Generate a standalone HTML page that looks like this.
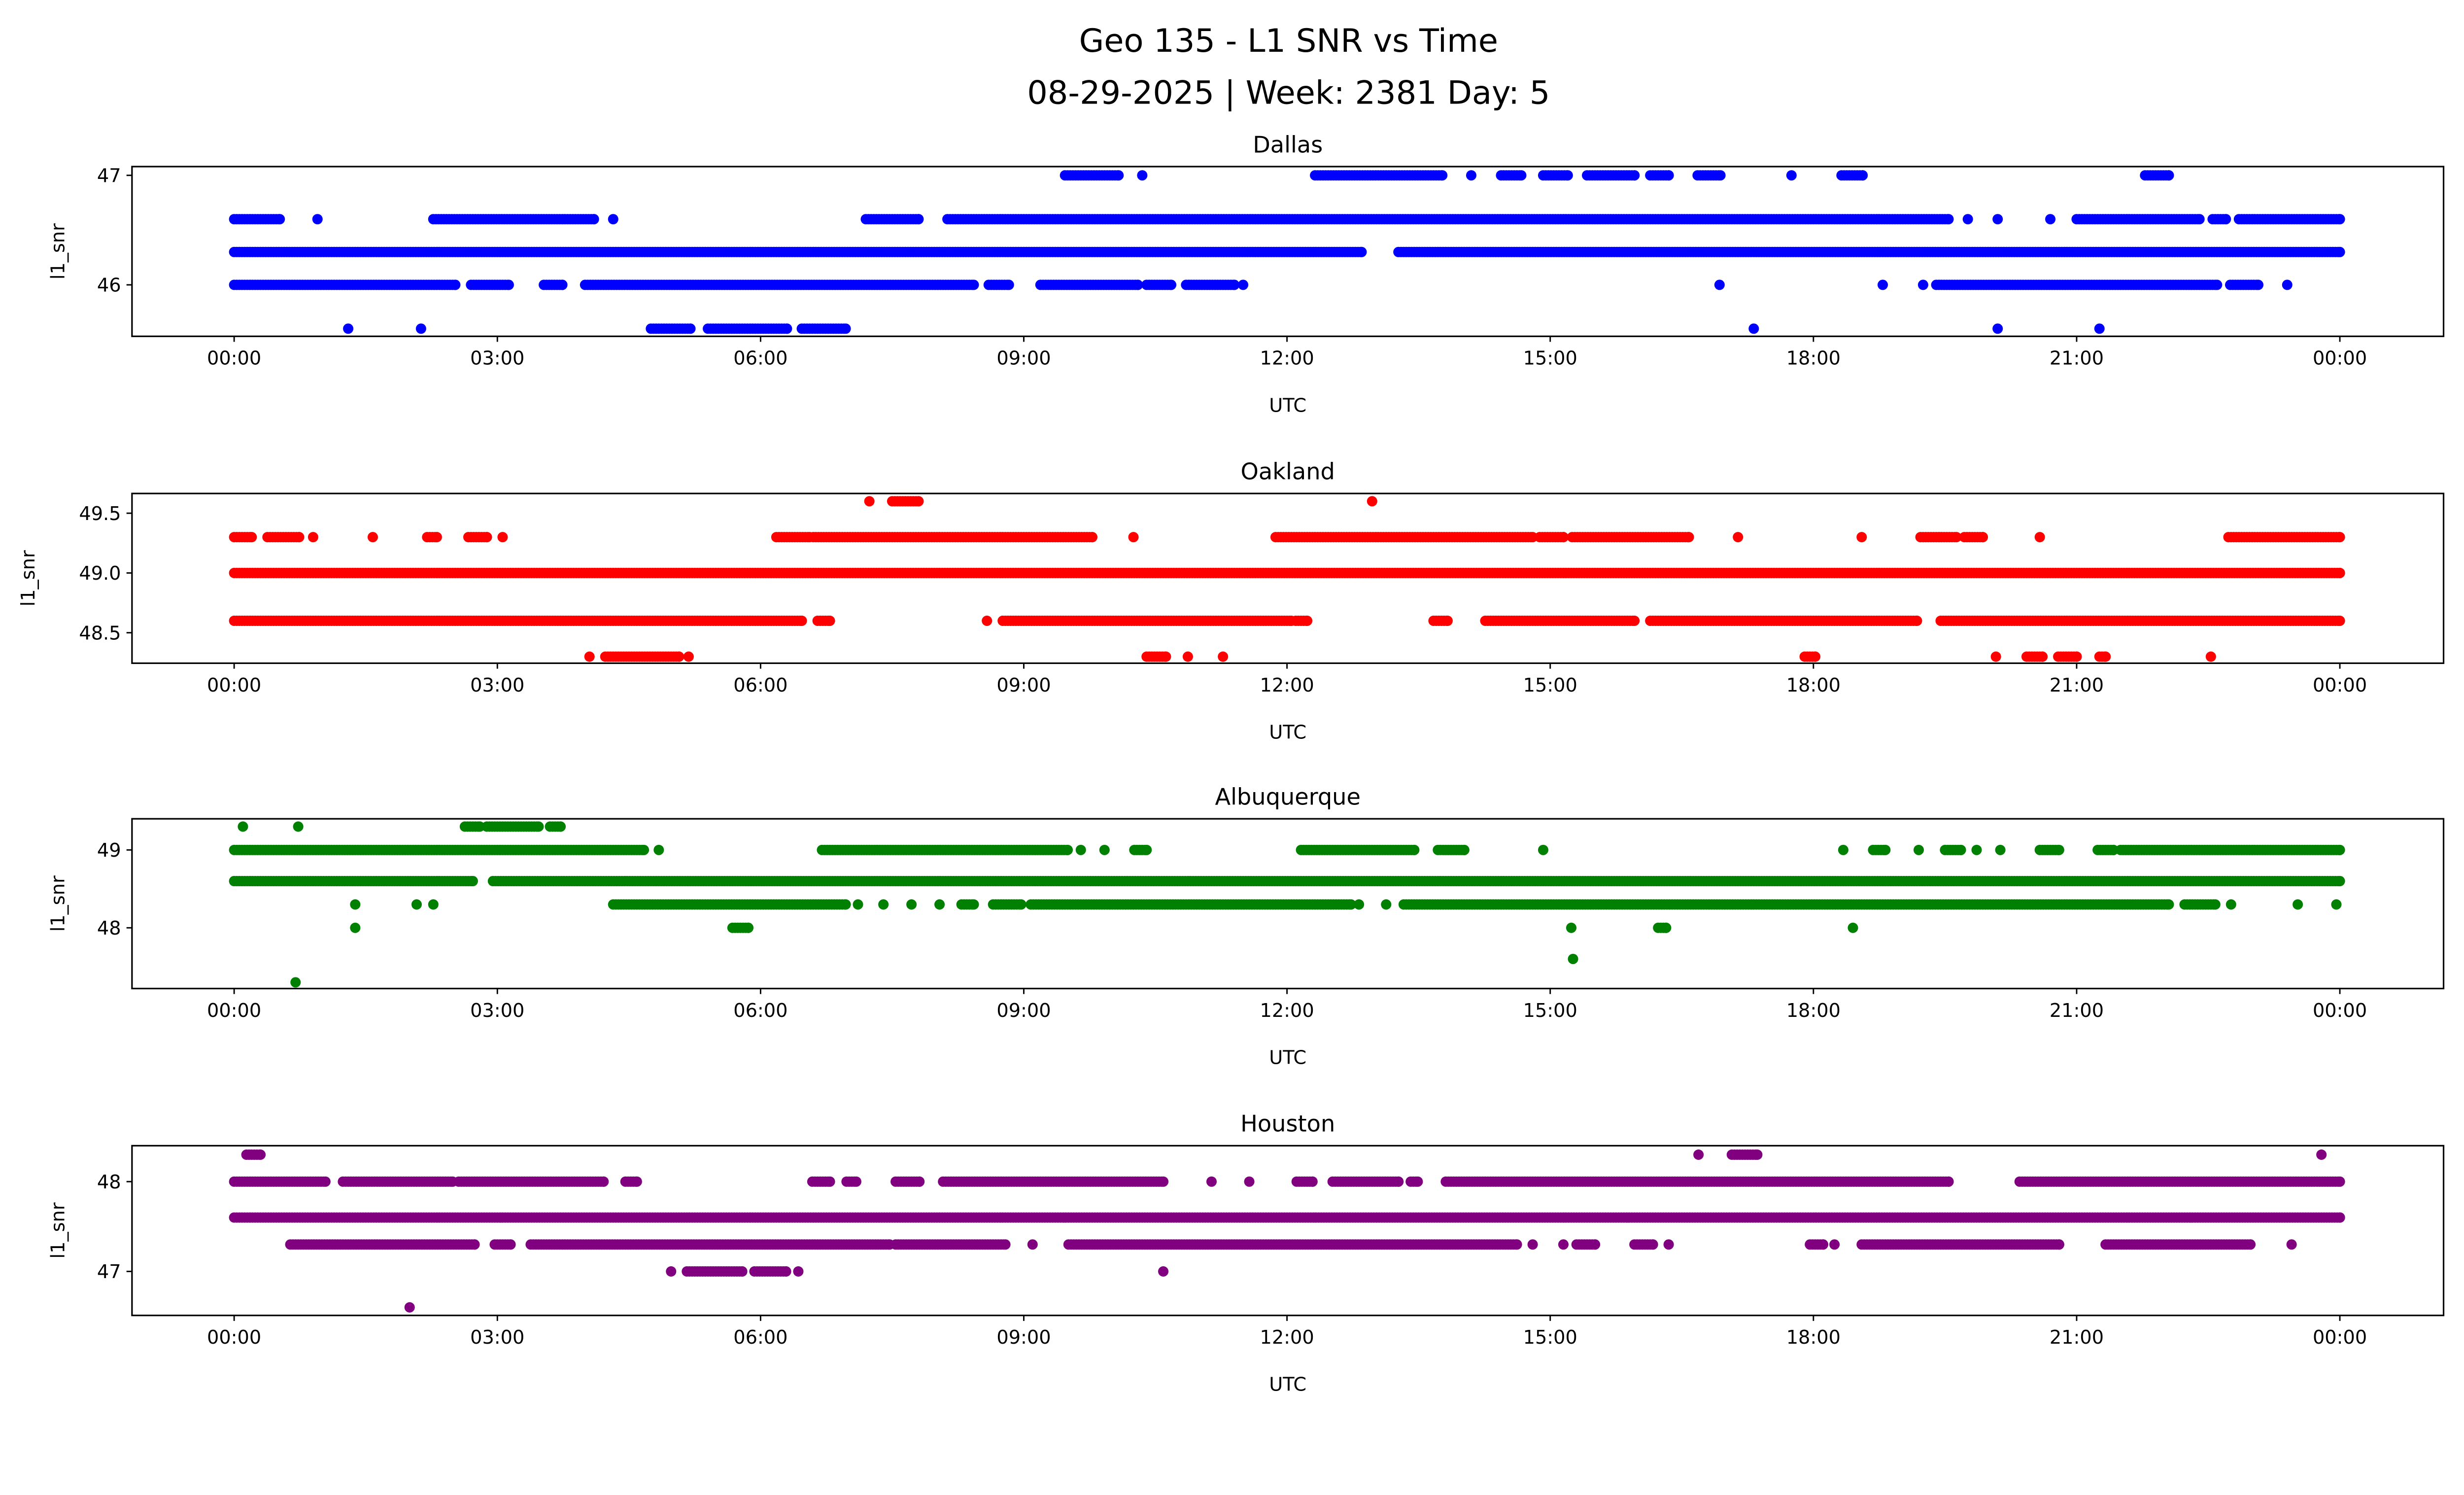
<!DOCTYPE html>
<html><head><meta charset="utf-8"><style>
html,body{margin:0;padding:0;background:#fff;width:100vw;overflow:hidden}
body{height:57.455vw}
svg{display:block;position:absolute;left:0;top:0;width:100vw;height:57.455vw}
text{font-family:"DejaVu Sans","Liberation Sans",sans-serif;fill:#000}
</style></head><body>
<svg id="fig" xmlns="http://www.w3.org/2000/svg" viewBox="0 0 1568 901" preserveAspectRatio="none">
<rect width="1568" height="901" fill="#fff"/>
<text x="820" y="33" font-size="20.5" text-anchor="middle">Geo 135 - L1 SNR vs Time</text>
<text x="820" y="66" font-size="20.5" text-anchor="middle">08-29-2025 | Week: 2381 Day: 5</text>
<g id="panels"></g>
</svg>
<script>
// time in hours (0-24); segments [start,end] where markers are present at each SNR level
const xTickLabels = ["00:00","03:00","06:00","09:00","12:00","15:00","18:00","21:00","00:00"];
const xTickHours = [0,3,6,9,12,15,18,21,24];
const stations = ["Dallas","Oakland","Albuquerque","Houston"];
const colors = ["#0000ff","#ff0000","#008000","#800080"];
const yTicksDallas = [46,47];
const yTicksOakland = [48.5,49.0,49.5];
const yTicksAlbuquerque = [48,49];
const yTicksHouston = [47,48];
const yLabelsOakland = ["48.5","49.0","49.5"];
const dallasLevels = [47.0,46.6,46.3,46.0,45.6];
const dallasSegs = [
 [[9.47,10.08],[10.35,10.35],[12.32,13.77],[14.1,14.1],[14.44,14.67],[14.92,15.2],[15.42,15.96],[16.14,16.35],[16.68,16.94],[17.75,17.75],[18.32,18.56],[21.78,22.05]],
 [[0,0.52],[0.95,0.95],[2.27,4.1],[4.32,4.32],[7.2,7.8],[8.13,19.54],[19.76,19.76],[20.1,20.1],[20.7,20.7],[21.0,22.4],[22.55,22.7],[22.85,24]],
 [[0,12.85],[13.27,24]],
 [[0,2.52],[2.7,3.13],[3.53,3.74],[4.0,8.43],[8.6,8.83],[9.19,10.3],[10.4,10.68],[10.85,11.4],[11.5,11.5],[16.93,16.93],[18.79,18.79],[19.25,19.25],[19.4,22.6],[22.75,23.07],[23.4,23.4]],
 [[1.3,1.3],[2.13,2.13],[4.75,5.2],[5.4,6.3],[6.47,6.97],[17.32,17.32],[20.1,20.1],[21.26,21.26]]
];
const oaklandLevels = [49.6,49.3,49.0,48.6,48.3];
const oaklandSegs = [
 [[7.24,7.24],[7.5,7.8],[12.97,12.97]],
 [[0,0.2],[0.38,0.74],[0.9,0.9],[1.58,1.58],[2.2,2.31],[2.67,2.88],[3.06,3.06],[6.18,6.56],[6.6,9.78],[10.25,10.25],[11.87,14.8],[14.88,15.15],[15.25,16.58],[17.14,17.14],[18.55,18.55],[19.22,19.63],[19.72,19.93],[20.58,20.58],[22.73,24]],
 [[0,24]],
 [[0,6.47],[6.65,6.79],[8.58,8.58],[8.76,12.05],[12.1,12.23],[13.67,13.83],[14.26,15.96],[16.14,19.18],[19.45,24]],
 [[4.05,4.05],[4.23,5.07],[5.18,5.18],[10.4,10.62],[10.87,10.87],[11.27,11.27],[17.9,18.02],[20.08,20.08],[20.43,20.61],[20.79,21.0],[21.26,21.33],[22.53,22.53]]
];
const albuqLevels = [49.3,49.0,48.6,48.3,48.0,47.6,47.3];
const albuqSegs = [
 [[0.1,0.1],[0.73,0.73],[2.63,2.8],[2.88,3.47],[3.6,3.72]],
 [[0,4.67],[4.84,4.84],[6.7,9.5],[9.65,9.65],[9.92,9.92],[10.26,10.4],[12.16,13.45],[13.72,14.02],[14.92,14.92],[18.34,18.34],[18.68,18.82],[19.2,19.2],[19.5,19.68],[19.86,19.86],[20.13,20.13],[20.58,20.8],[21.24,21.42],[21.5,24]],
 [[0,2.72],[2.95,24]],
 [[1.38,1.38],[2.08,2.08],[2.27,2.27],[4.32,6.97],[7.11,7.11],[7.4,7.4],[7.72,7.72],[8.04,8.04],[8.29,8.43],[8.65,8.97],[9.08,12.73],[12.82,12.82],[13.13,13.13],[13.33,22.05],[22.23,22.58],[22.76,22.76],[23.52,23.52],[23.96,23.96]],
 [[1.38,1.38],[5.68,5.86],[15.24,15.24],[16.23,16.32],[18.45,18.45]],
 [[15.26,15.26]],
 [[0.7,0.7]]
];
const houstonLevels = [48.3,48.0,47.6,47.3,47.0,46.6];
const houstonSegs = [
 [[0.14,0.3],[16.69,16.69],[17.07,17.36],[23.79,23.79]],
 [[0,1.04],[1.24,2.49],[2.56,4.21],[4.46,4.59],[6.59,6.79],[6.98,7.09],[7.54,7.81],[8.08,10.59],[11.14,11.14],[11.57,11.57],[12.11,12.29],[12.52,13.27],[13.41,13.49],[13.81,19.54],[20.35,24]],
 [[0,24]],
 [[0.64,2.74],[2.97,3.15],[3.38,7.47],[7.54,8.79],[9.1,9.1],[9.51,14.62],[14.8,14.8],[15.15,15.15],[15.3,15.51],[15.96,16.17],[16.35,16.35],[17.96,18.11],[18.24,18.24],[18.55,20.8],[21.33,22.98],[23.45,23.45]],
 [[4.98,4.98],[5.16,5.79],[5.93,6.29],[6.43,6.43],[10.59,10.59]],
 [[2.0,2.0]]
];
const panelData = [
 {levels:dallasLevels, segs:dallasSegs, yt:yTicksDallas, yl:["46","47"], ymin:45.53, ymax:47.08, top:106},
 {levels:oaklandLevels, segs:oaklandSegs, yt:yTicksOakland, yl:yLabelsOakland, ymin:48.245, ymax:49.665, top:314},
 {levels:albuqLevels, segs:albuqSegs, yt:yTicksAlbuquerque, yl:["48","49"], ymin:47.22, ymax:49.4, top:521},
 {levels:houstonLevels, segs:houstonSegs, yt:yTicksHouston, yl:["47","48"], ymin:46.51, ymax:48.4, top:729}
];
const NS="http://www.w3.org/2000/svg";
const root=document.getElementById('panels');
function mk(tag,attrs,parent){const e=document.createElementNS(NS,tag);for(const k in attrs)e.setAttribute(k,attrs[k]);parent.appendChild(e);return e;}
const L=84,R=1555,H=108;
const xScale=h=>149+h*(1489-149)/24;
panelData.forEach((p,i)=>{
  const g=mk('g',{},root);
  
  
  const yScale=v=>p.top+H-(v-p.ymin)/(p.ymax-p.ymin)*H;
  const t=mk('text',{x:(L+R)/2,y:p.top-9,'font-size':14.5,'text-anchor':'middle'},g);
  t.textContent=stations[i];
  
  
  const pts=mk('g',{fill:colors[i]},g);
  
  
  p.levels.forEach((lv,j)=>{
    const cy=yScale(lv);
    p.segs[j].forEach(s=>{
      for(let h=s[0];h<=s[1]+1e-9;h+=0.03){
        mk('circle',{cx:xScale(h).toFixed(2),cy:cy.toFixed(2),r:3.3},pts);
      }
      if(s[1]-s[0]>0.03) mk('circle',{cx:xScale(s[1]).toFixed(2),cy:cy.toFixed(2),r:3.3},pts);
    });
  });
  const fr=mk('rect',{x:L,y:p.top,width:R-L,height:H,fill:'none',stroke:'#000','stroke-width':1},g);
  
  
  xTickHours.forEach((h,k)=>{
    const x=xScale(h);
    mk('line',{x1:x,x2:x,y1:p.top+H,y2:p.top+H+3.5,stroke:'#000','stroke-width':0.9},g);
    const tl=mk('text',{x:x,y:p.top+H+18,'font-size':12,'text-anchor':'middle'},g);
    tl.textContent=xTickLabels[k];
    
    
  });
  p.yt.forEach((v,k)=>{
    const y=yScale(v);
    mk('line',{x1:L-3.5,x2:L,y1:y,y2:y,stroke:'#000','stroke-width':0.9},g);
    const tl=mk('text',{x:L-7,y:y+4.3,'font-size':12,'text-anchor':'end'},g);
    tl.textContent=p.yl[k];
    
    
  });
  const xl=mk('text',{x:(L+R)/2,y:p.top+H+48,'font-size':12,'text-anchor':'middle'},g);
  xl.textContent='UTC';
  
  
  const yx = i===1?22:41;
  const yl=mk('text',{x:0,y:0,'font-size':12,'text-anchor':'middle',transform:`translate(${yx},${p.top+H/2}) rotate(-90)`},g);
  yl.textContent='l1_snr';
  
  
});
</script>
</body></html>
